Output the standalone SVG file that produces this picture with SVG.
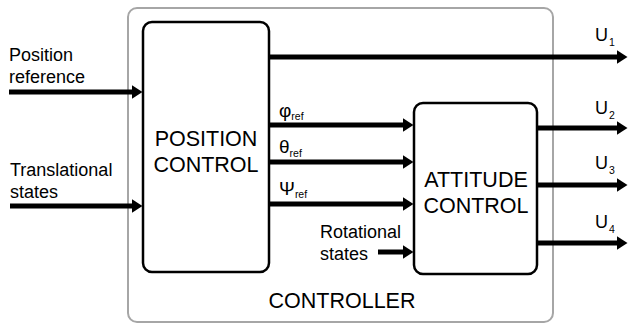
<svg xmlns="http://www.w3.org/2000/svg" width="628" height="323" viewBox="0 0 628 323">
<style>
text{font-family:"Liberation Sans",Arial,sans-serif;fill:#000}
.lbl{font-size:18px}
.big{font-size:21.5px;text-anchor:middle}
.gr{font-size:19px}
.sub{font-size:10.5px}
.box{fill:#fff;stroke:#000;stroke-width:2.5}
.wire{stroke:#000;stroke-width:5;fill:none}
</style>
<defs>
<marker id="ah" markerUnits="userSpaceOnUse" markerWidth="11" markerHeight="14" refX="0.5" refY="7" orient="auto">
<path d="M0,0 L11,7 L0,14 z" fill="#000"/>
</marker>
</defs>
<rect id="controller" x="128" y="8" width="425" height="314" rx="9" fill="none" stroke="#a6a6a6" stroke-width="2"/>
<text class="big" x="342" y="308">CONTROLLER</text>
<g id="connectors">
<line class="wire" x1="9" y1="92" x2="132" y2="92" marker-end="url(#ah)"/>
<line class="wire" x1="10" y1="206" x2="132" y2="206" marker-end="url(#ah)"/>
<line class="wire" x1="269" y1="57" x2="617" y2="57" marker-end="url(#ah)"/>
<line class="wire" x1="269" y1="125" x2="403" y2="125" marker-end="url(#ah)"/>
<line class="wire" x1="269" y1="162" x2="403" y2="162" marker-end="url(#ah)"/>
<line class="wire" x1="269" y1="204" x2="403" y2="204" marker-end="url(#ah)"/>
<line class="wire" x1="378" y1="252" x2="403" y2="252" marker-end="url(#ah)"/>
<line class="wire" x1="537" y1="128" x2="617" y2="128" marker-end="url(#ah)"/>
<line class="wire" x1="537" y1="185" x2="617" y2="185" marker-end="url(#ah)"/>
<line class="wire" x1="537" y1="243" x2="617" y2="243" marker-end="url(#ah)"/>
</g>
<g id="position-control">
<rect class="box" x="143" y="22" width="126" height="250" rx="9"/>
<text class="big" x="206" y="146">POSITION</text>
<text class="big" x="206" y="172">CONTROL</text>
</g>
<g id="attitude-control">
<rect class="box" x="414" y="103" width="123" height="171" rx="9"/>
<text class="big" x="476" y="187">ATTITUDE</text>
<text class="big" x="476" y="213">CONTROL</text>
</g>
<g id="labels">
<text class="lbl" x="9" y="61">Position</text>
<text class="lbl" x="9" y="83">reference</text>
<text class="lbl" x="10" y="176">Translational</text>
<text class="lbl" x="10" y="198">states</text>
<text class="lbl" x="320" y="238">Rotational</text>
<text class="lbl" x="320" y="260">states</text>
<text class="gr" x="279" y="117">φ<tspan class="sub" dy="3">ref</tspan></text>
<text class="gr" x="279" y="153">θ<tspan class="sub" dy="4">ref</tspan></text>
<text class="gr" x="279" y="195">Ψ<tspan class="sub" dy="3">ref</tspan></text>
<text class="lbl" x="595" y="41">U<tspan class="sub" dx="1" dy="5">1</tspan></text>
<text class="lbl" x="595" y="114">U<tspan class="sub" dx="1" dy="5">2</tspan></text>
<text class="lbl" x="595" y="169">U<tspan class="sub" dx="1" dy="5">3</tspan></text>
<text class="lbl" x="595" y="228">U<tspan class="sub" dx="1" dy="5">4</tspan></text>
</g>
</svg>
